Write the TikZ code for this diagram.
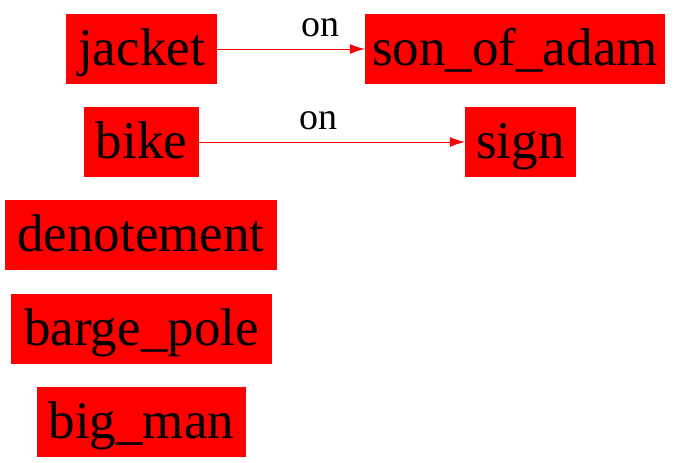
\documentclass[tikz,border=0pt]{standalone}
\usepackage{fontspec}
\setmainfont{Liberation Serif}
\usetikzlibrary{arrows.meta}

\tikzset{
	ent/.style={rectangle, fill=red, inner sep=0pt, minimum height=70pt,
		text height=40pt, text depth=8pt, font=\fontsize{53}{61}\selectfont},
	rel/.style={red, line width=1pt, -{Latex[length=15pt,width=10pt]}},
	lbl/.style={anchor=base, inner sep=0pt, yshift=13pt, text=black,
		font=\fontsize{38}{45}\selectfont}
}

\begin{document}
\begin{tikzpicture}[x=1pt, y=-1pt]
	\useasboundingbox (0,0) rectangle (681,463);
	% entities
	\node[ent, minimum width=151pt] (jacket) at (141.5,49) {jacket};
	\node[ent, minimum width=300pt] (sonofadam) at (515,49) {son\_of\_adam};
	\node[ent, minimum width=115pt] (bike) at (141.5,142) {bike};
	\node[ent, minimum width=111pt] (sign) at (520.5,142) {sign};
	\node[ent, minimum width=272pt] (denotement) at (141,235) {denotement};
	\node[ent, minimum width=261pt] (bargepole) at (141.5,329) {barge\_pole};
	\node[ent, minimum width=209pt] (bigman) at (141.5,422) {big\_man};
	% relations
	\draw[rel] (jacket) -- node[lbl, pos=0.7] {on} (sonofadam);
	\draw[rel] (bike) -- node[lbl, pos=0.45] {on} (sign);
\end{tikzpicture}
\end{document}
